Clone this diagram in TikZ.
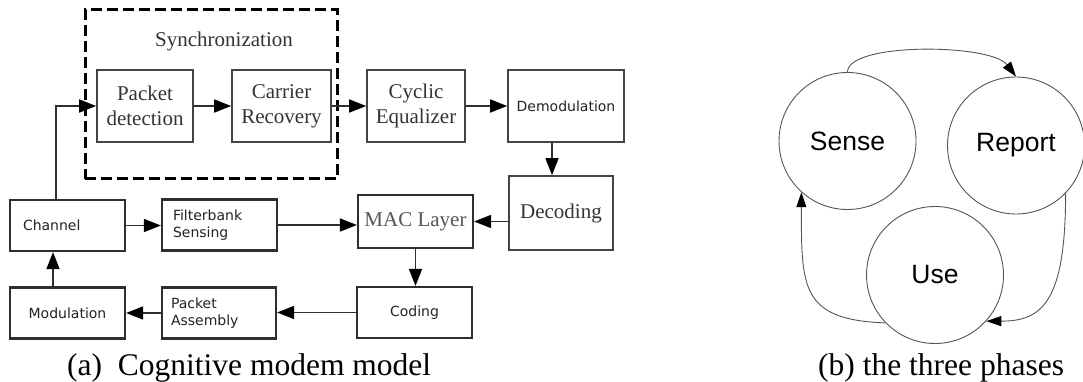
\documentclass[tikz,border=0pt]{standalone}
\usepackage{fontspec}
\setmainfont{Liberation Serif}
\newfontfamily\vsans{DejaVu Sans}
\newfontfamily\asans{Liberation Sans}
\usetikzlibrary{arrows.meta}
\definecolor{boxc}{HTML}{2E2E2E}
\definecolor{boxr}{HTML}{444444}
\definecolor{txts}{HTML}{222222}
\definecolor{txtr}{HTML}{333333}
\definecolor{circc}{HTML}{555555}
\tikzset{
  sbox/.style={draw=boxc, line width=2.2pt, inner sep=0pt, minimum height=51pt, text=txts,
    font=\vsans\fontsize{14}{17.5}\selectfont},
  rbox/.style={draw=boxr, line width=1.6pt, inner sep=0pt, align=center, text=txtr,
    font=\fontsize{21}{25}\selectfont},
  arr/.style={draw=boxc, line width=1.6pt, -{Triangle[length=17pt,width=13pt,color=black]}},
  circ/.style={circle, draw=circc, line width=0.9pt, minimum size=137pt, inner sep=0pt,
    font=\asans\fontsize{26.5}{30}\selectfont, text=black},
  carr/.style={draw=circc, line width=0.9pt, -{Triangle[length=15pt,width=10pt,color=black]}},
  capt/.style={anchor=base west, inner sep=0pt, font=\fontsize{31.5}{36}\selectfont}
}
\begin{document}
\begin{tikzpicture}[x=1pt,y=-1pt]
\useasboundingbox (0,0) rectangle (1083,382);
% synchronization group
\node[draw=black, line width=3pt, dash pattern=on 11pt off 5pt, minimum width=252pt, minimum height=169pt, inner sep=0pt] (sync) at (211,94.5) {};
\node[text=txtr, font=\fontsize{21}{25}\selectfont, inner sep=0pt] (syncl) at (224,41) {Synchronization};
% top row
\node[rbox, minimum width=96pt, minimum height=72pt] (pd) at (145,106) {Packet\\detection};
\node[rbox, minimum width=99pt, minimum height=72pt] (cr) at (281.5,106) {Carrier\\Recovery};
\node[rbox, minimum width=98pt, minimum height=72pt] (ce) at (416,106) {Cyclic\\Equalizer};
\node[sbox, line width=1.6pt, draw=boxr, minimum width=116pt, minimum height=72pt] (dm) at (566,106) {Demodulation};
% middle row
\node[rbox, minimum width=104pt, minimum height=74pt] (dc) at (561,213) {Decoding};
\node[rbox, line width=2.2pt, draw=boxc, text=circc, minimum width=115pt, minimum height=53pt] (mac) at (415.5,221.5) {MAC Layer};
\node[sbox, align=left, inner xsep=13pt, text width=89pt] (ch) at (67.5,225.5) {Channel};
\node[sbox, align=left, inner xsep=11pt, text width=93pt] (fb) at (219.5,225) {Filterbank\\Sensing};
% bottom row
\node[sbox, minimum width=115pt] (cod) at (414.5,312.5) {Coding};
\node[sbox, minimum width=115pt] (mod) at (67.5,313) {Modulation};
\node[sbox, align=left, inner xsep=9pt, text width=96pt] (pa) at (219,313) {Packet\\Assembly};
% helper coordinates
\coordinate (c1) at (56,0);
\coordinate (c2) at (552,0);
\coordinate (c3) at (53,0);
% connectors
\draw[arr] (ch.north -| c1) -- (c1 |- pd.west) -- (pd.west);
\draw[arr] (pd) -- (cr);
\draw[arr] (cr) -- (ce);
\draw[arr] (ce) -- (dm);
\draw[arr] (dm.south -| c2) -- (dc.north -| c2);
\draw[arr] (dc.west |- mac.east) -- (mac.east);
\draw[arr] (ch.east) -- (fb.west |- ch.east);
\draw[arr] (fb.east) -- (mac.west |- fb.east);
\draw[arr] (mac.south) -- (cod.north -| mac.south);
\draw[arr] (cod.west) -- (pa.east |- cod.west);
\draw[arr] (pa.west) -- (mod.east |- pa.west);
\draw[arr] (mod.north -| c3) -- (ch.south -| c3);
% right diagram
\node[circ] (sense) at (847.5,141) {Sense};
\node[circ] (report) at (1016,145.5) {Report};
\node[circ] (use) at (935,275) {Use};
\draw[carr] (sense.north) .. controls +(0,-30) and +(-25,-33) .. (report.north);
\draw[carr] (report.-44) .. controls +(0,110) and +(55,0) .. (use.-42);
\draw[carr] (use.-136) .. controls +(-85,-3) and +(0,95) .. (sense.-132);
% captions
\node[capt] (capa) at (67,375) {(a)\enspace Cognitive modem model};
\node[capt] (capb) at (818,375) {(b) the three phases};
\end{tikzpicture}
\end{document}
